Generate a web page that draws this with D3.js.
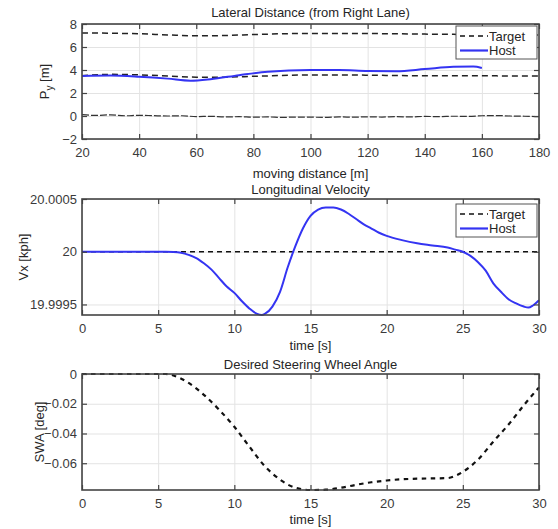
<!DOCTYPE html>
<html>
<head>
<meta charset="utf-8">
<script src="https://cdn.jsdelivr.net/npm/d3@7"></script>
<style>
  body { margin: 0; background: #fff; }
  svg text { font-family: "Liberation Sans", Arial, Helvetica, sans-serif; }
</style>
</head>
<body>
<svg id="chart" width="558" height="529"></svg>
<script>
// ---- Lateral distance (from right lane) vs moving distance ----
const laneDist = d3.range(20, 181, 10);
const laneLeft = [7.22, 7.2, 7.15, 7.05, 6.97, 7.0, 7.08, 7.15, 7.18, 7.18, 7.17, 7.15, 7.12, 7.1, 7.08, 7.06, 7.05];
const targetPath = [3.5, 3.62, 3.58, 3.48, 3.38, 3.38, 3.45, 3.52, 3.57, 3.57, 3.55, 3.52, 3.5, 3.5, 3.5, 3.48, 3.48];
const rightLaneDist = d3.range(20, 181, 5);
const laneRight = [0.12, 0.05, 0.1, 0.02, 0.06, 0.03, 0.0, 0.02, -0.05, -0.03, -0.08, -0.06, -0.1, -0.08, -0.12, -0.09,
                   -0.1, -0.12, -0.08, -0.1, -0.07, -0.09, -0.06, -0.08, -0.04, -0.05, -0.02, -0.03, 0.02, 0.04, 0.0, -0.02, -0.06];
const hostDist = [20, 30, 40, 50, 58, 65, 75, 85, 100, 110, 120, 130, 140, 150, 157, 160];
const hostPy = [3.48, 3.52, 3.42, 3.25, 3.07, 3.2, 3.55, 3.85, 4.0, 4.0, 3.92, 3.9, 4.08, 4.28, 4.3, 4.18];
const distTicks = [20, 40, 60, 80, 100, 120, 140, 160, 180];
const pyTicks = [-2, 0, 2, 4, 6, 8];

// ---- Longitudinal velocity vs time ----
const velTime = [0, 5, 5.5, 6, 6.5, 7, 7.5, 8, 8.5, 9, 9.5, 10, 10.5, 11, 11.5, 11.8, 12, 12.5, 13, 13.5, 14, 14.5, 15,
                 15.5, 16, 16.5, 17, 17.5, 18, 18.5, 19, 19.5, 20, 21, 22, 23, 24, 24.5, 25, 25.5, 26, 26.5, 27, 27.5,
                 28, 28.5, 29, 29.3, 29.6, 30];
const velHost = [20, 20, 20, 19.999998, 19.99999, 19.99997, 19.99994, 19.99989, 19.99983, 19.99975, 19.99967, 19.99961,
                 19.99953, 19.99946, 19.99941, 19.9994, 19.99941, 19.99948, 19.99962, 19.99985, 20.00005, 20.00022,
                 20.00034, 20.0004, 20.00042, 20.00042, 20.0004, 20.00036, 20.00031, 20.00026, 20.00022, 20.00018,
                 20.00015, 20.00011, 20.00008, 20.00006, 20.00004, 20.00002, 20.0, 19.99996, 19.9999, 19.99982,
                 19.9997, 19.99962, 19.99955, 19.99951, 19.99948, 19.99947, 19.99949, 19.99954];
const velTarget = 20;
const timeTicks = [0, 5, 10, 15, 20, 25, 30];
const velTicks = [19.9995, 20, 20.0005];

// ---- Desired steering wheel angle vs time ----
const swaTime = [0, 5, 5.5, 6, 7, 8, 9, 10, 11, 12, 13, 14, 15, 16, 17, 18, 19, 20, 21, 22, 23, 24, 24.5, 25, 26, 27, 28, 29, 30];
const swaValue = [0, 0, 0, -0.001, -0.006, -0.014, -0.024, -0.0355, -0.049, -0.062, -0.071, -0.0765, -0.078, -0.0778,
                  -0.0765, -0.0745, -0.0728, -0.0716, -0.0708, -0.0704, -0.0702, -0.07, -0.0685, -0.0658, -0.0575,
                  -0.0455, -0.034, -0.021, -0.009];
const swaTicks = [-0.06, -0.04, -0.02, 0];

const legendLabels = ["Target", "Host"];

const svg = d3.select("#chart");
const left = 82, right = 539;
const hostColor = "#3434f2";
const frameColor = "#444";
const tickText = "#3a3a3a";

function drawPanel(cfg) {
  const x = d3.scaleLinear().domain(cfg.xDomain).range([left, right]);
  const y = d3.scaleLinear().domain(cfg.yDomain).range([cfg.bottom, cfg.top]);
  const h = cfg.bottom - cfg.top, w = right - left;
  const g = svg.append("g");

  // grid
  g.append("g").attr("transform", `translate(0,${cfg.bottom})`)
    .call(d3.axisBottom(x).tickValues(cfg.xTicks).tickSize(-h).tickFormat(""))
    .call(s => s.select(".domain").remove())
    .call(s => s.selectAll("line").attr("stroke", "#e3e3e3").attr("stroke-width", 1));
  g.append("g").attr("transform", `translate(${left},0)`)
    .call(d3.axisLeft(y).tickValues(cfg.yTicks).tickSize(-w).tickFormat(""))
    .call(s => s.select(".domain").remove())
    .call(s => s.selectAll("line").attr("stroke", "#e3e3e3").attr("stroke-width", 1));

  // data
  const plot = g.append("g");
  cfg.series.forEach(sr => {
    const line = d3.line().x(d => x(d[0])).y(d => y(d[1])).curve(d3.curveMonotoneX);
    plot.append("path").datum(d3.zip(sr.x, sr.y))
      .attr("d", line).attr("fill", "none")
      .attr("stroke", sr.color).attr("stroke-width", sr.width)
      .attr("stroke-dasharray", sr.dash || null)
      .attr("stroke-linejoin", "round");
  });

  // inward ticks on all four sides
  const axStyle = s => {
    s.select(".domain").remove();
    s.selectAll("line").attr("stroke", frameColor).attr("stroke-width", 1.2);
    s.selectAll("text").attr("fill", tickText).style("font-size", "13px");
  };
  g.append("g").attr("transform", `translate(0,${cfg.bottom})`)
    .call(d3.axisBottom(x).tickValues(cfg.xTicks).tickSize(-5).tickPadding(8.5).tickFormat(cfg.xFormat || d3.format("")))
    .call(axStyle);
  g.append("g").attr("transform", `translate(0,${cfg.top})`)
    .call(d3.axisTop(x).tickValues(cfg.xTicks).tickSize(-5).tickFormat(""))
    .call(axStyle);
  g.append("g").attr("transform", `translate(${left},0)`)
    .call(d3.axisLeft(y).tickValues(cfg.yTicks).tickSize(-5).tickPadding(5).tickFormat(cfg.yFormat))
    .call(axStyle);
  g.append("g").attr("transform", `translate(${right},0)`)
    .call(d3.axisRight(y).tickValues(cfg.yTicks).tickSize(-5).tickFormat(""))
    .call(axStyle);

  // frame
  g.append("rect").attr("x", left).attr("y", cfg.top).attr("width", w).attr("height", h)
    .attr("fill", "none").attr("stroke", frameColor).attr("stroke-width", 1.6);

  // title and axis labels
  g.append("text").attr("x", (left + right) / 2).attr("y", cfg.top - cfg.titleGap)
    .attr("text-anchor", "middle").attr("fill", "#262626").style("font-size", "13px").text(cfg.title);
  g.append("text").attr("x", (left + right) / 2).attr("y", cfg.xLabelY)
    .attr("text-anchor", "middle").attr("fill", "#262626").style("font-size", "13px").text(cfg.xLabel);
  const yl = g.append("text")
    .attr("transform", `translate(${cfg.yLabelX},${(cfg.top + cfg.bottom) / 2}) rotate(-90)`)
    .attr("text-anchor", "middle").attr("fill", "#262626").style("font-size", "13px");
  cfg.yLabel(yl);

  // legend
  if (cfg.legend) {
    const lg = g.append("g");
    const lx = 456, ly = cfg.top + cfg.legend.dy, lw = 81, lh = 33;
    lg.append("rect").attr("x", lx).attr("y", ly).attr("width", lw).attr("height", lh)
      .attr("fill", "#fff").attr("stroke", "#555").attr("stroke-width", 1);
    const styles = [
      { color: "#111", width: 1.6, dash: "5,4" },
      { color: hostColor, width: 2.2, dash: null }
    ];
    legendLabels.forEach((lab, i) => {
      const ry = ly + 10 + i * 14.5;
      lg.append("line").attr("x1", lx + 4).attr("x2", lx + 32).attr("y1", ry).attr("y2", ry)
        .attr("stroke", styles[i].color).attr("stroke-width", styles[i].width)
        .attr("stroke-dasharray", styles[i].dash);
      lg.append("text").attr("x", lx + 33).attr("y", ry).attr("dy", "0.36em")
        .attr("fill", "#262626").style("font-size", "13px").text(lab);
    });
  }
}

// Panel 1: lateral position
drawPanel({
  top: 24, bottom: 139, titleGap: 7,
  xDomain: [20, 180], yDomain: [-2, 8],
  xTicks: distTicks, yTicks: pyTicks, yFormat: d3.format(""),
  title: "Lateral Distance (from Right Lane)", xLabel: "moving distance [m]", xLabelY: 178,
  yLabelX: 49,
  yLabel: t => {
    t.append("tspan").text("P");
    t.append("tspan").attr("dy", "0.35em").style("font-size", "10px").text("y");
    t.append("tspan").attr("dy", "-0.3em").text(" [m]");
  },
  legend: { dy: 2 },
  series: [
    { x: laneDist, y: laneLeft, color: "#222", width: 1.5, dash: "6,4" },
    { x: laneDist, y: targetPath, color: "#222", width: 1.5, dash: "6,4" },
    { x: rightLaneDist, y: laneRight, color: "#333", width: 1.2, dash: "7,2" },
    { x: hostDist, y: hostPy, color: hostColor, width: 2, dash: null }
  ]
});

// Panel 2: longitudinal velocity
drawPanel({
  top: 199, bottom: 315, titleGap: 5,
  xDomain: [0, 30], yDomain: [19.9994, 20.0005],
  xTicks: timeTicks, yTicks: velTicks, yFormat: d => d3.format(".4~f")(d),
  title: "Longitudinal Velocity", xLabel: "time [s]", xLabelY: 350,
  yLabelX: 28,
  yLabel: t => t.text("Vx [kph]"),
  legend: { dy: 5 },
  series: [
    { x: [0, 30], y: [velTarget, velTarget], color: "#111", width: 1.5, dash: "5,4" },
    { x: velTime, y: velHost, color: hostColor, width: 2, dash: null }
  ]
});

// Panel 3: steering wheel angle
drawPanel({
  top: 374, bottom: 490, titleGap: 5,
  xDomain: [0, 30], yDomain: [-0.078, 0],
  xTicks: timeTicks, yTicks: swaTicks, yFormat: d => d === 0 ? "0" : d3.format(".2f")(d),
  title: "Desired Steering Wheel Angle", xLabel: "time [s]", xLabelY: 524,
  yLabelX: 44,
  yLabel: t => t.text("SWA [deg]"),
  legend: null,
  series: [
    { x: swaTime, y: swaValue, color: "#111", width: 2.2, dash: "4.5,4.5" }
  ]
});
</script>
</body>
</html>
